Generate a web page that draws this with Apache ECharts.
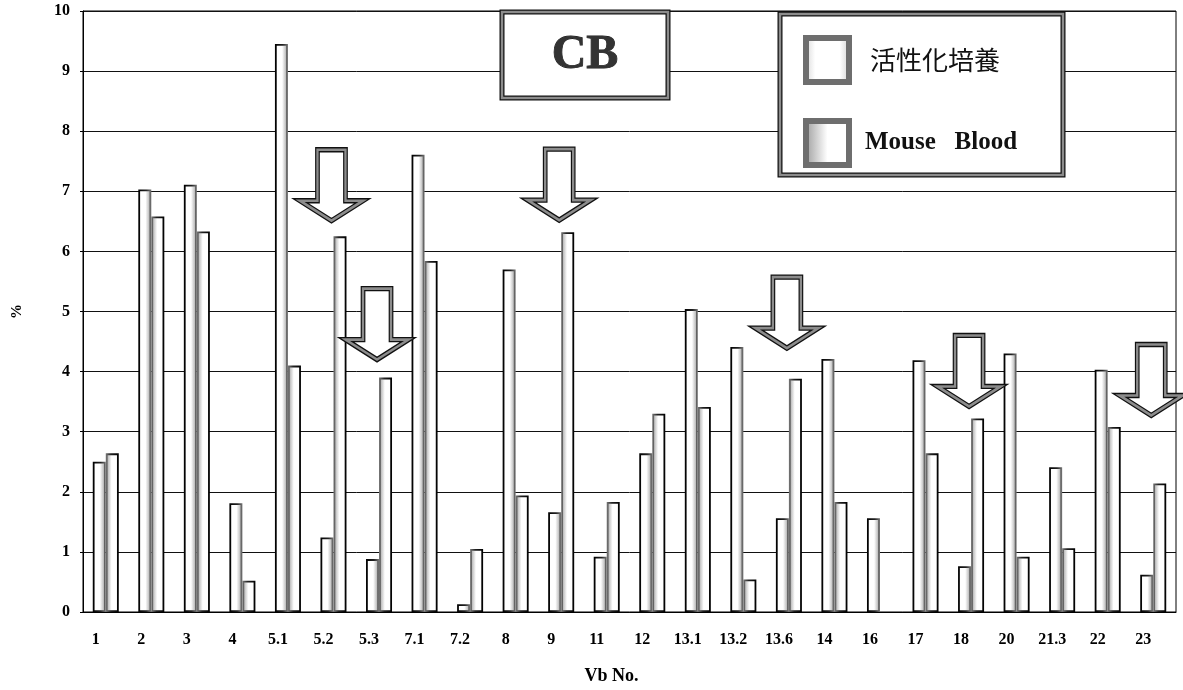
<!DOCTYPE html>
<html>
<head>
<meta charset="utf-8">
<script src="https://cdn.jsdelivr.net/npm/echarts@6/dist/echarts.min.js"></script>
<style>
  html, body { margin: 0; padding: 0; background: #fff; }
  #chart { width: 1183px; height: 690px; }
</style>
</head>
<body>
<div id="chart"></div>
<script>
// Vb numbers along the horizontal axis
const categories = ['1', '2', '3', '4', '5.1', '5.2', '5.3', '7.1', '7.2', '8', '9', '11',
                    '12', '13.1', '13.2', '13.6', '14', '16', '17', '18', '20', '21.3', '22', '23'];

// Percentages per Vb, activated culture
const activated = [2.50, 7.03, 7.11, 1.81, 9.45, 1.24, 0.88, 7.61, 0.13, 5.70, 1.66, 0.92,
                   2.64, 5.04, 4.41, 1.56, 4.21, 1.56, 4.19, 0.76, 4.30, 2.41, 4.03, 0.62];

// Percentages per Vb, mouse blood (no bar for 16)
const mouseBlood = [2.64, 6.58, 6.33, 0.52, 4.10, 6.25, 3.90, 5.84, 1.05, 1.94, 6.32, 1.83,
                    3.30, 3.41, 0.54, 3.88, 1.83, null, 2.64, 3.22, 0.92, 1.06, 3.08, 2.14];

// Value axis range
const yMin = 0, yMax = 10, yStep = 1;

// Down arrows: which Vb they point at, and the value where the tip sits
const arrowCats = ['5.2', '5.3', '9', '13.6', '18', '23'];
const arrowTips = [6.51, 4.20, 6.52, 4.39, 3.42, 3.27];

const seriesNames = ['活性化培養', 'Mouse Blood'];

const chart = echarts.init(document.getElementById('chart'), null, { renderer: 'canvas' });
const LG = echarts.graphic.LinearGradient;
const grad = stops => new LG(0, 0, 1, 0, stops.map(([o, c]) => ({ offset: o, color: c })));

const serif = '"Liberation Serif", "Times New Roman", serif';
const arrowPath = 'path://M17.5 0 L45.5 0 L45.5 51 L63 51 L31.5 71 L0 51 L17.5 51 Z';
const arrowData = arrowCats.map((c, i) => [c, arrowTips[i]]);

const boxRects = (x, y, w, h, z) => [
  { type: 'rect', z: z, shape: { x, y, width: w, height: h },
    style: { fill: '#fff', stroke: '#111', lineWidth: 5 } },
  { type: 'rect', z: z + 1, shape: { x, y, width: w, height: h },
    style: { fill: null, stroke: '#8c8c8c', lineWidth: 2.5 } }
];

const option = {
  animation: false,
  backgroundColor: '#fff',
  grid: { left: 83, right: 7, top: 11, bottom: 77, show: true, borderColor: '#000', borderWidth: 1 },
  xAxis: {
    type: 'category',
    data: categories,
    axisLine: { lineStyle: { color: '#000', width: 1 } },
    axisTick: { inside: true, length: 5, interval: 0, alignWithLabel: false, lineStyle: { color: '#000' } },
    axisLabel: {
      interval: 0, margin: 20, color: '#000',
      fontFamily: serif, fontWeight: 'bold', fontSize: 16, padding: [0, 20, 0, 0]
    },
    name: 'Vb No.', nameLocation: 'middle', nameGap: 55,
    nameTextStyle: { color: '#000', fontFamily: serif, fontWeight: 'bold', fontSize: 18, padding: [0, 36, 0, 0] }
  },
  yAxis: {
    type: 'value', min: yMin, max: yMax, interval: yStep,
    axisLine: { show: true, lineStyle: { color: '#000', width: 1 } },
    axisTick: { show: true, length: 3, lineStyle: { color: '#000' } },
    splitLine: { lineStyle: { color: '#111', width: 1 } },
    axisLabel: { margin: 13, color: '#000', fontFamily: serif, fontWeight: 'bold', fontSize: 16 },
    name: '%', nameLocation: 'middle', nameGap: 58,
    nameTextStyle: { color: '#000', fontFamily: serif, fontWeight: 'bold', fontSize: 15 }
  },
  legend: {
    orient: 'vertical', left: 803, top: 35, padding: 0,
    icon: 'rect', itemWidth: 43, itemHeight: 44, itemGap: 33,
    selectedMode: false, z: 20,
    data: [
      { name: seriesNames[0],
        itemStyle: { color: grad([[0, '#d0d0d0'], [0.25, '#fff'], [0.75, '#fff'], [1, '#c8c8c8']]),
                     borderColor: '#6e6e6e', borderWidth: 6 } },
      { name: seriesNames[1],
        itemStyle: { color: grad([[0, '#959595'], [0.5, '#fff'], [1, '#fff']]),
                     borderColor: '#6e6e6e', borderWidth: 6 } }
    ],
    formatter: n => n === seriesNames[0] ? '{cn|' + n + '}' : '{en|' + n.replace(' ', '   ') + '}',
    textStyle: {
      rich: {
        cn: { fontFamily: '"Noto Sans CJK JP", sans-serif', fontSize: 26, color: '#111', padding: [0, 0, 0, 16] },
        en: { fontFamily: serif, fontWeight: 'bold', fontSize: 25, color: '#111', padding: [0, 0, 0, 11] }
      }
    }
  },
  graphic: [
    ...boxRects(502, 12, 166, 86, 10),
    { type: 'text', z: 12,
      style: { text: 'CB', x: 585, y: 56, align: 'center', verticalAlign: 'middle',
               font: 'bold 48px ' + serif, fill: '#333', stroke: '#111', lineWidth: 0.8 } },
    ...boxRects(780, 14, 283, 161, 10)
  ],
  series: [
    {
      name: seriesNames[0], type: 'bar', data: activated,
      barWidth: 13, barGap: '0%',
      itemStyle: {
        color: grad([[0, '#fff'], [0.55, '#fff'], [1, '#999']]),
        borderColor: grad([[0, '#000'], [0.6, '#222'], [1, '#777']]),
        borderWidth: 1.8
      },
      emphasis: { disabled: true }, z: 2
    },
    {
      name: seriesNames[1], type: 'bar', data: mouseBlood,
      barWidth: 13,
      itemStyle: {
        color: grad([[0, '#999'], [0.45, '#fff'], [1, '#fff']]),
        borderColor: grad([[0, '#777'], [0.4, '#222'], [1, '#000']]),
        borderWidth: 1.8
      },
      emphasis: { disabled: true }, z: 2
    },
    {
      type: 'scatter', data: arrowData, silent: true, z: 5,
      symbol: arrowPath, symbolSize: [63, 71], symbolOffset: [-2, -35.5],
      itemStyle: { color: '#fff', borderColor: '#111', borderWidth: 5, opacity: 1 }
    },
    {
      type: 'scatter', data: arrowData, silent: true, z: 6,
      symbol: arrowPath, symbolSize: [63, 71], symbolOffset: [-2, -35.5],
      itemStyle: { color: 'rgba(0,0,0,0)', borderColor: '#8c8c8c', borderWidth: 2.5, opacity: 1 }
    }
  ]
};

chart.setOption(option);
</script>
</body>
</html>
